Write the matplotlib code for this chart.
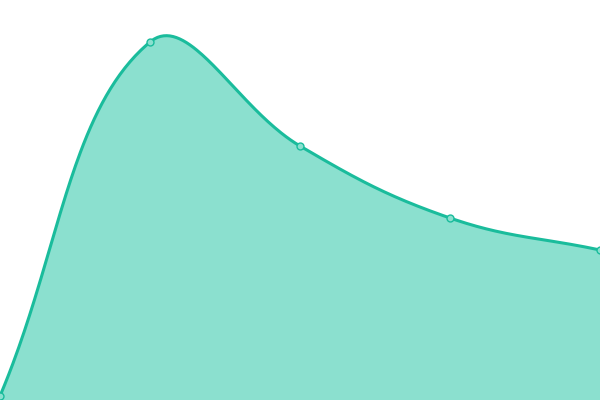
import numpy as np
import matplotlib
matplotlib.use('Agg')
import matplotlib.pyplot as plt

# data (y axis runs 0..400)
categories = ['A', 'B', 'C', 'D', 'E']
values = [4, 358, 254, 182, 150]

LINE = '#1abc9c'
FILL = '#8be0cf'


def smooth(xs, ys, s=0.4, n=80):
    # bezier smoothing, control points scaled by neighbour distances
    pts = np.column_stack([xs, ys]).astype(float)
    k = len(pts)
    cin = pts.copy()
    cout = pts.copy()
    for i in range(k):
        prev = pts[max(i - 1, 0)]
        nxt = pts[min(i + 1, k - 1)]
        v = nxt - prev
        d0 = np.hypot(*(pts[i] - prev))
        d1 = np.hypot(*(nxt - pts[i]))
        r = d1 / (d0 + d1)
        cin[i] = pts[i] - v * s * (1 - r)
        cout[i] = pts[i] + v * s * r
    out = [pts[0]]
    t = np.linspace(0, 1, n)[1:, None]
    for i in range(k - 1):
        p1, c1, c2, p2 = pts[i], cout[i], cin[i + 1], pts[i + 1]
        seg = (1 - t) ** 3 * p1 + 3 * t * (1 - t) ** 2 * c1 + 3 * t ** 2 * (1 - t) * c2 + t ** 3 * p2
        out.extend(seg)
    out = np.array(out)
    return out[:, 0], out[:, 1]


def main():
    x = np.arange(len(categories))
    # work in pixel-like units so the shape matches the 600x400 canvas
    sx, sy = smooth(x * 150, values)
    sx = sx / 150

    fig = plt.figure(figsize=(6, 4), dpi=100)
    ax = fig.add_axes([0, 0, 1, 1])
    ax.fill_between(sx, 0, sy, color=FILL, linewidth=0)
    ax.plot(sx, sy, color=LINE, linewidth=2.2, solid_capstyle='round')
    ax.plot(x, values, 'o', markersize=5, markerfacecolor=FILL,
            markeredgecolor=LINE, markeredgewidth=1)
    ax.set_xlim(0, len(categories) - 1)
    ax.set_ylim(0, 400)
    ax.axis('off')
    fig.savefig('out.png', dpi=100)
    plt.close(fig)


if __name__ == "__main__":
    main()
